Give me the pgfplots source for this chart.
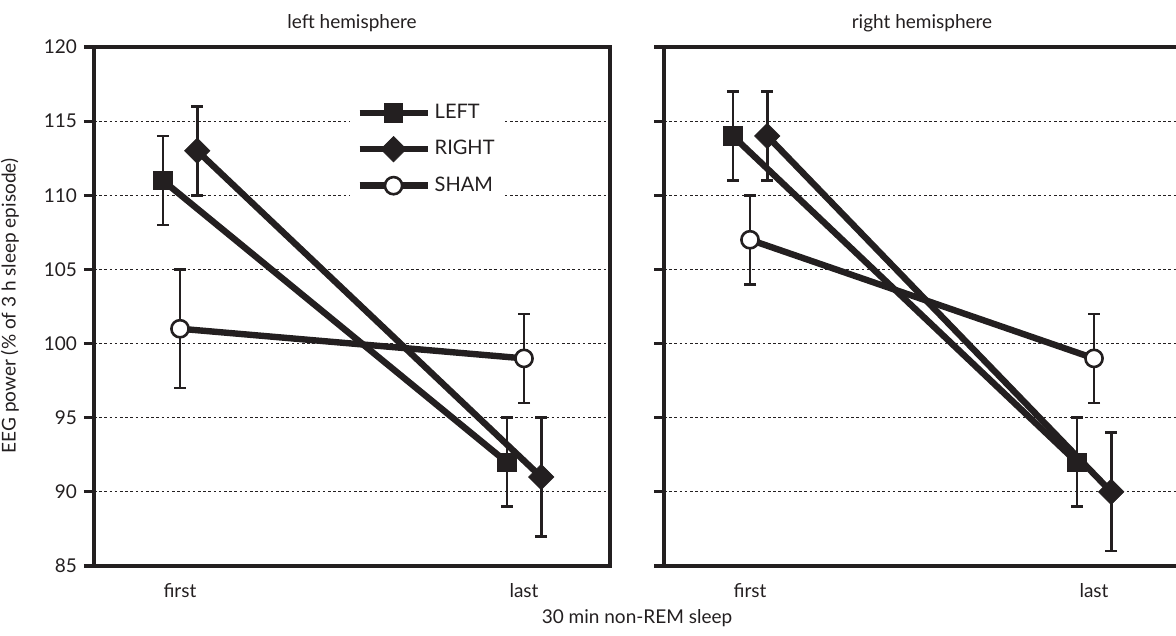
\documentclass[border=0pt]{standalone}
\usepackage{pgfplots}
\pgfplotsset{compat=1.18}
\usepackage{fontspec}
\setmainfont{Lato}
\definecolor{fg}{RGB}{35,31,32}
\begin{document}
\begin{tikzpicture}
\pgfplotsset{
 panel/.style={
  scale only axis, width=258pt, height=259.5pt,
  xmin=-0.25, xmax=1.25, ymin=85, ymax=120,
  xtick={0,1}, xticklabels={first,last},
  ytick={85,90,...,120}, ytick pos=left,
  x tick style={draw=none},
  y tick style={line width=1.6pt, color=fg},
  tick align=outside, major tick length=5pt,
  axis line style={line width=1.6pt, color=fg},
  ymajorgrids, grid style={dash pattern=on 1.3pt off 1.3pt, line width=0.6pt, color=fg},
  tick label style={font=\fontsize{9.5}{11}\selectfont, text=fg},
  /pgf/number format/assume math mode=true,
  clip=false,
  every axis plot/.append style={line width=3.2pt, color=fg},
  title style={font=\fontsize{9.5}{11}\selectfont, text=fg, at={(0.5,1)}, anchor=base, yshift=3pt},
 },
 eb/.style={error bars/y dir=both, error bars/y explicit,
  error bars/error bar style={line width=1.3pt, color=fg},
  error bars/error mark options={rotate=90, mark size=3pt, line width=1.3pt, color=fg}},
 sq/.style={eb, mark=square*, mark size=4.6pt, mark options={solid, line width=0.3pt, fill=fg, draw=fg}},
 di/.style={eb, mark=square*, mark size=4.5pt, mark options={solid, rotate=45, line width=0.3pt, fill=fg, draw=fg}},
 ci/.style={eb, mark=*, mark size=4.3pt, mark options={solid, line width=1.3pt, fill=white, draw=fg}},
}
\begin{axis}[panel, at={(0pt,0pt)}, anchor=south west, title={left hemisphere},
  legend style={at={(0.496,0.91)}, anchor=north west, draw=none, fill=white,
    font=\fontsize{10}{12}\selectfont, text=fg, row sep=5.5pt, inner sep=3pt},
  legend cell align=left,
  legend image code/.code={\draw[mark repeat=2,mark phase=2,#1] plot coordinates {(0pt,0pt) (17pt,0pt) (34pt,0pt)};}]
\addplot[sq] coordinates {(-0.05,111) +- (0,3) (0.95,92) +- (0,3)};
\addplot[di] coordinates {(0.05,113) +- (0,3) (1.05,91) +- (0,4)};
\addplot[ci] coordinates {(0,101) +- (0,4) (1,99) +- (0,3)};
\legend{LEFT,RIGHT,SHAM}
\end{axis}
\begin{axis}[panel, at={(285pt,0pt)}, anchor=south west, title={right hemisphere}, yticklabels={}]
\addplot[sq] coordinates {(-0.05,114) +- (0,3) (0.95,92) +- (0,3)};
\addplot[di] coordinates {(0.05,114) +- (0,3) (1.05,90) +- (0,4)};
\addplot[ci] coordinates {(0,107) +- (0,3) (1,99) +- (0,3)};
\end{axis}
\node[rotate=90, font=\fontsize{9.5}{11}\selectfont, text=fg] at (-42pt,130pt) {EEG power (\% of 3 h sleep episode)};
\node[font=\fontsize{9.5}{11}\selectfont, text=fg] at (271.5pt,-26pt) {30 min non-REM sleep};
\pgfresetboundingbox
\useasboundingbox (-47pt,-35pt) rectangle (541pt,283pt);
\end{tikzpicture}
\end{document}
